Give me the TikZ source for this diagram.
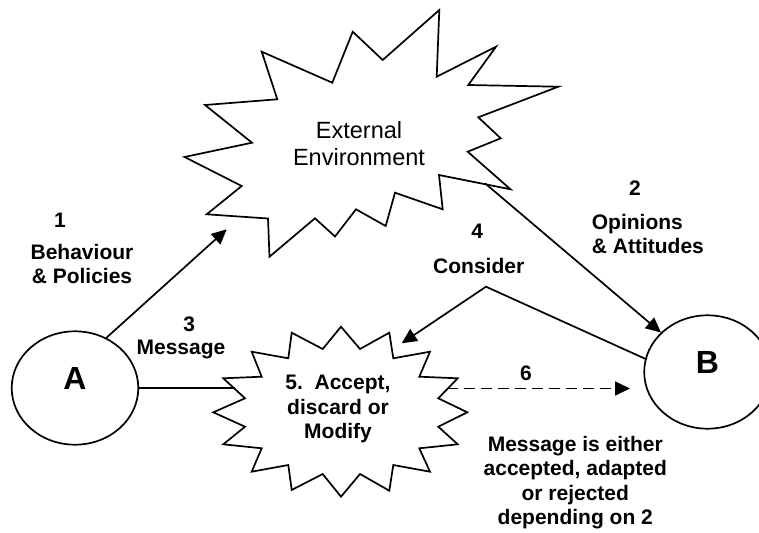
\documentclass[tikz,border=0pt]{standalone}
\usepackage{fontspec}
\setmainfont{Liberation Sans}
\usetikzlibrary{arrows.meta,shapes.geometric}

\tikzset{
    conn/.style={line width=1.7pt},
    arr/.style={conn, -{Triangle[length=15pt,width=14pt]}},
    lbl/.style={font=\bfseries\fontsize{21}{24.4}\selectfont, align=center, inner sep=0pt},
    party/.style={ellipse, draw, line width=1.7pt, minimum width=126.6pt, minimum height=113.4pt,
        inner sep=0pt, font=\bfseries\fontsize{32}{36}\selectfont, text depth=20pt},
}

\begin{document}
\begin{tikzpicture}[x=1pt, y=-1pt]
    % Page frame
    \useasboundingbox (0,0) rectangle (759,532);
    \clip (0,0) rectangle (759,532);

    % Draw the external environment burst
    \draw[conn] (261.7,51.7) -- (332.3,82.7) -- (352.7,31.7) -- (382.7,60) -- (439.3,10)
        -- (436.7,76.7) -- (496,46.7) -- (468.3,85) -- (558.3,86.7) -- (478.3,117.3)
        -- (500.7,138.3) -- (467.7,151.7) -- (510.5,189.3) -- (439,175) -- (442.7,209.3)
        -- (395,192.7) -- (385.7,226) -- (356,209.3) -- (335,236.5) -- (315,218.3)
        -- (269.5,256.7) -- (268,218.5) -- (206.7,214.3) -- (241.7,186) -- (184.5,157)
        -- (252,142.7) -- (205,105) -- (277.3,99.3) -- cycle;
    \node[font=\fontsize{23.5}{26.7}\selectfont, align=center, inner sep=0pt] (ext) at (359,143.3) {External\\Environment};

    % Draw the message burst
    \draw[conn] (341,326.7) -- (360,349) -- (389.3,332.7) -- (393.3,358.3) -- (430,351.7)
        -- (419.3,376.7) -- (457.7,378.3) -- (438.3,398.3) -- (467.3,412.3) -- (438.3,426.7)
        -- (457.7,444.3) -- (419.3,448.3) -- (430,471.7) -- (393.3,465) -- (389.3,490.7)
        -- (360,474) -- (341,496.7) -- (322.7,474) -- (291.7,490) -- (288.3,465)
        -- (251.7,471.7) -- (261.7,448.3) -- (223.3,444.3) -- (245,426.7) -- (213.3,412.3)
        -- (245,398.3) -- (223.3,378.3) -- (261.7,376.7) -- (251.7,351.7) -- (288.3,358.3)
        -- (291.7,332.7) -- (322.7,349) -- cycle;
    \node[lbl] (msg) at (338,409) {5.\ \ Accept,\\discard or\\Modify};

    % The two parties
    \node[party] (A) at (75,388) {A};
    \node[party] (B) at (707.5,372) {B};

    % Labels
    \node[lbl] (n1) at (60,220) {1};
    \node[lbl] (beh) at (82,264) {Behaviour\\\& Policies};
    \node[lbl] (n2) at (635,188.3) {2};
    \node[lbl, align=left, anchor=west] (opin) at (591.7,234.2) {Opinions\\\& Attitudes};
    \node[lbl] (n3) at (189.3,324) {3};
    \node[lbl] (msglbl) at (181,349.3) {Message};
    \node[lbl] (n4) at (477.3,231.7) {4};
    \node[lbl] (cons) at (478.7,266) {Consider};
    \node[lbl] (n6) at (526,373.3) {6};
    \node[lbl] (result) at (575.3,482.7) {Message is either\\accepted, adapted\\or rejected\\depending on 2};

    % Connector ends
    \coordinate (ext-in) at (226.7,229.3);
    \coordinate (ext-out) at (485,183.3);
    \coordinate (msg-in) at (235,388);
    \coordinate (msg-top) at (401.7,343.3);
    \coordinate (msg-out) at (446.7,388.5);
    \coordinate (bend) at (486,286.7);
    \coordinate (b-in) at (630,388.5);

    % Connectors
    \draw[arr] (A.58) -- (ext-in);
    \draw[conn] (A.east) -- (msg-in);
    \draw[arr] (ext-out) -- (B);
    \draw[arr] (B.168) -- (bend) -- (msg-top);
    \draw[arr, dash pattern=on 11pt off 6pt] (msg-out) -- (b-in);
\end{tikzpicture}
\end{document}
